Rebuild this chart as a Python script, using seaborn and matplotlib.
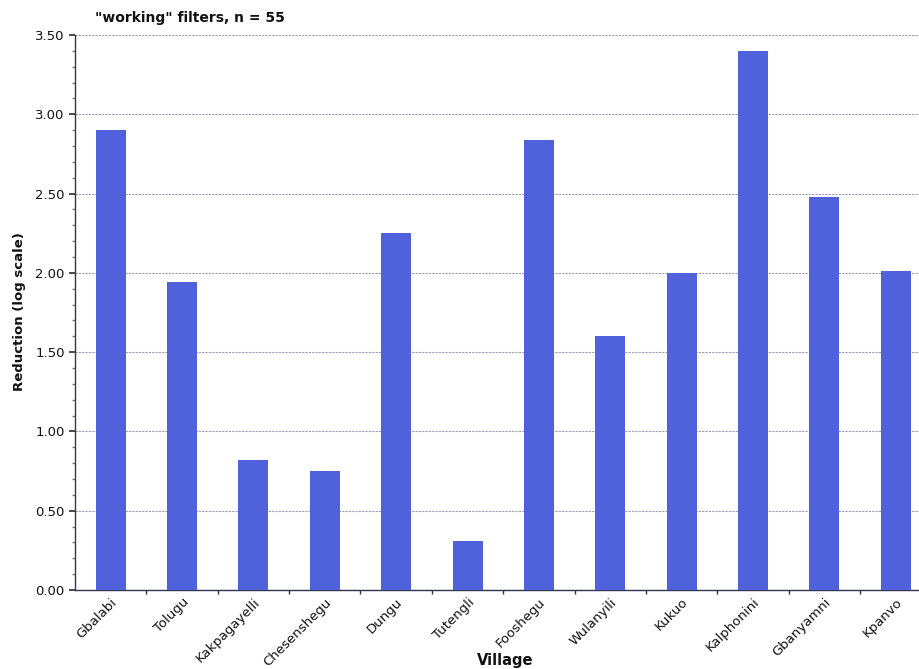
import matplotlib
matplotlib.use("Agg")
import matplotlib.pyplot as plt
import seaborn as sns
import pandas as pd
import numpy as np
from matplotlib.ticker import MultipleLocator, FixedLocator

villages = ["Gbalabi", "Tolugu", "Kakpagayelli", "Chesenshegu", "Dungu", "Tutengli",
            "Fooshegu", "Wulanyili", "Kukuo", "Kalphonini", "Gbanyamni", "Kpanvo"]
reduction = [2.90, 1.94, 0.82, 0.75, 2.25, 0.31, 2.84, 1.60, 2.00, 3.40, 2.48, 2.01]
y_ticks = [0.0, 0.5, 1.0, 1.5, 2.0, 2.5, 3.0, 3.5]

sns.set_theme(style="white")
plt.rcParams['font.family'] = ['DejaVu Sans']

df = pd.DataFrame({"Village": villages, "Reduction": reduction})

fig = plt.figure(figsize=(9.2, 6.69), dpi=100)
ax = fig.add_axes([75/920, (669-590)/669, (920-75)/920, (590-35)/669])

sns.barplot(data=df, x="Village", y="Reduction", color="#4f62dc", width=0.42,
            saturation=1, linewidth=0, ax=ax, zorder=3)

ax.set_ylim(0, 3.5)
ax.set_xlim(-0.5, 11.34)
ax.set_yticks(y_ticks)
ax.set_yticklabels([f"{v:.2f}" for v in y_ticks], fontsize=9.5, color="#111111")
ax.yaxis.set_minor_locator(MultipleLocator(0.1))
ax.xaxis.set_minor_locator(FixedLocator(np.arange(0.5, 11.5, 1.0)))
ax.tick_params(axis="x", which="major", length=0, pad=4)
ax.tick_params(axis="x", which="minor", length=3, color="#333333", bottom=True)
ax.tick_params(axis="y", which="major", length=4, color="#333333", left=True)
ax.tick_params(axis="y", which="minor", length=2, color="#777777", left=True)
ax.set_xticks(range(len(villages)))
ax.set_xticklabels(villages, rotation=45, ha="right", rotation_mode="anchor",
                   fontsize=9.5, color="#111111")

ax.grid(axis="y", which="major", linestyle=(0, (2, 1)), color="#9a9ab4", linewidth=0.8, zorder=0)
ax.set_axisbelow(True)

for s in ["top", "right"]:
    ax.spines[s].set_visible(False)
for s in ["left", "bottom"]:
    ax.spines[s].set_color("#333355")
    ax.spines[s].set_linewidth(1.0)

ax.set_xlabel("")
ax.set_ylabel("")

fig.text(95/920, 1 - 18/669, "\"working\" filters, n = 55", fontsize=10, fontweight="heavy",
         ha="left", va="center", color="#111111")
fig.text(20/920, 1 - 312/669, "Reduction (log scale)", fontsize=9.5, fontweight="bold",
         rotation=90, ha="center", va="center", color="#111111")
fig.text(505/920, 1 - 660/669, "Village", fontsize=10.5, fontweight="bold",
         ha="center", va="center", color="#111111")

fig.savefig("out.png", dpi=100)
